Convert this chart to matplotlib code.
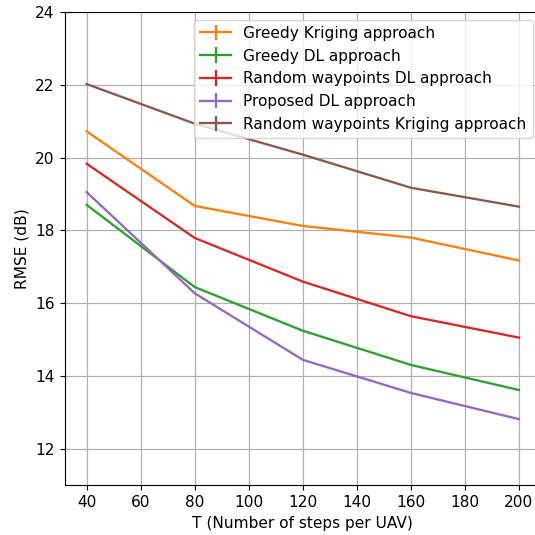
import matplotlib
matplotlib.use("Agg")
import matplotlib.pyplot as plt
import numpy as np

T = [40, 80, 120, 160, 200]
greedy_kriging = [20.72, 18.67, 18.12, 17.80, 17.17]
greedy_dl = [18.70, 16.44, 15.24, 14.30, 13.61]
random_dl = [19.83, 17.79, 16.59, 15.64, 15.05]
proposed_dl = [19.05, 16.27, 14.44, 13.53, 12.81]
random_kriging = [22.02, 20.93, 20.08, 19.17, 18.65]

series = [
    ("Greedy Kriging approach", greedy_kriging, "tab:orange"),
    ("Greedy DL approach", greedy_dl, "tab:green"),
    ("Random waypoints DL approach", random_dl, "tab:red"),
    ("Proposed DL approach", proposed_dl, "tab:purple"),
    ("Random waypoints Kriging approach", random_kriging, "tab:brown"),
]

plt.rcParams["font.size"] = 11.1
plt.rcParams["lines.linewidth"] = 1.65
plt.rcParams["grid.linewidth"] = 0.9
plt.rcParams["xtick.major.size"] = 3.9
plt.rcParams["ytick.major.size"] = 3.9

fig = plt.figure(figsize=(5.35, 5.35), dpi=100)
ax = fig.add_axes([65/535, 50/535, (540.6-65)/535, (485-12)/535])
for label, vals, c in series:
    ax.errorbar(T, vals, yerr=np.zeros(len(vals)), color=c, label=label)
ax.set_ylim(11, 24)
ax.set_xticks([40, 60, 80, 100, 120, 140, 160, 180, 200])
ax.set_xlabel("T (Number of steps per UAV)")
ax.set_ylabel("RMSE (dB)")
ax.grid(True)
ax.legend(loc="upper right")
fig.savefig("out.png", dpi=100)
